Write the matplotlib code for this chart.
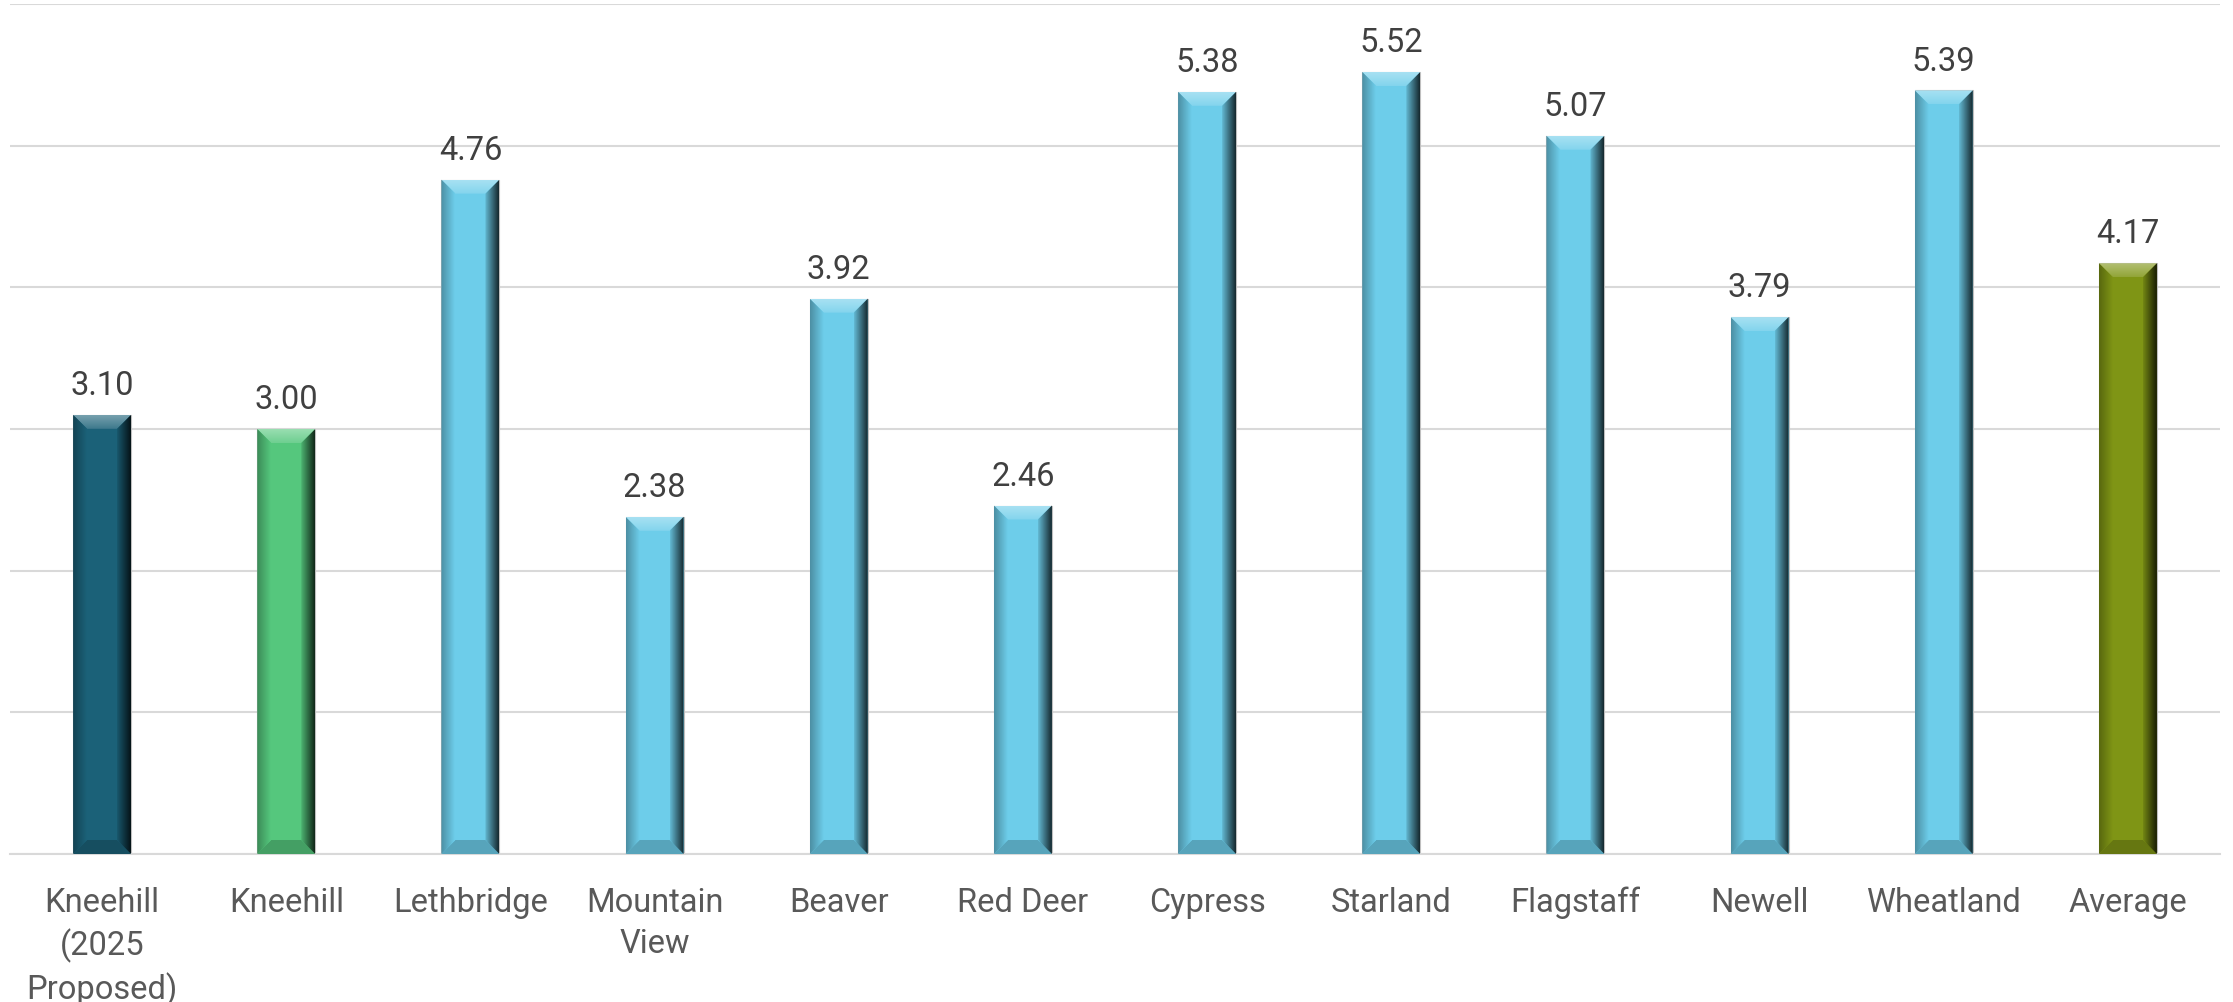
"""
Kneehill vs. neighbouring municipalities - bar chart with bevelled bars.
"""
import matplotlib
matplotlib.use("Agg")
import matplotlib.pyplot as plt
import numpy as np
from matplotlib.colors import to_rgb, ListedColormap
from matplotlib.patches import Polygon

categories = [
    "Kneehill\n(2025\nProposed)",
    "Kneehill",
    "Lethbridge",
    "Mountain\nView",
    "Beaver",
    "Red Deer",
    "Cypress",
    "Starland",
    "Flagstaff",
    "Newell",
    "Wheatland",
    "Average",
]
values = [3.10, 3.00, 4.76, 2.38, 3.92, 2.46, 5.38, 5.52, 5.07, 3.79, 5.39, 4.17]
bar_colors = ["#1B6178", "#55C77D"] + ["#6DCDEA"] * 9 + ["#7F9515"]

y_ticks = [0, 1, 2, 3, 4, 5, 6]

plt.rcParams["font.family"] = ["Roboto", "DejaVu Sans"]


def mix(c, other, t):
    c = np.array(to_rgb(c))
    o = np.array(to_rgb(other))
    return tuple(c * (1 - t) + o * t)


W, H, DPI = 2233, 1003, 100
fig = plt.figure(figsize=(W / DPI, H / DPI), dpi=DPI)
ax = fig.add_axes([10 / W, 1 - 855 / H, 2210 / W, 850 / H])

x = np.arange(len(categories))
bar_w = 0.315
bars = ax.bar(x, values, bar_w, color=bar_colors, edgecolor="#BFBFBF",
              linewidth=0.8, zorder=2)

ax.set_xlim(-0.5, len(categories) - 0.5)
ax.set_ylim(0, 6)
ax.set_yticks(y_ticks)
ax.yaxis.grid(True, color="#D9D9D9", linewidth=1.5, zorder=0)
ax.set_axisbelow(True)
ax.tick_params(axis="y", length=0, labelleft=False)
ax.tick_params(axis="x", length=0, pad=23, labelsize=23.5, colors="#595959")
ax.set_xticks(x)
ax.set_xticklabels(categories, linespacing=1.36)
for s in ["left", "right", "top"]:
    ax.spines[s].set_visible(False)
ax.spines["bottom"].set_color("#D9D9D9")
ax.spines["bottom"].set_linewidth(1.5)

# bevel size in data units (about 14 px)
bev_px = 14
dx = bev_px * (ax.get_xlim()[1] - ax.get_xlim()[0]) / 2210
dy = bev_px * (ax.get_ylim()[1] - ax.get_ylim()[0]) / 850

for bar, col in zip(bars, bar_colors):
    x0 = bar.get_x()
    x1 = x0 + bar.get_width()
    y0, y1 = 0, bar.get_height()

    top = Polygon([(x0, y1), (x1, y1), (x1 - dx, y1 - dy), (x0 + dx, y1 - dy)],
                  closed=True, facecolor="none", edgecolor="none", zorder=3)
    bottom = Polygon([(x0, y0), (x1, y0), (x1 - dx, y0 + dy), (x0 + dx, y0 + dy)],
                     closed=True, facecolor=mix(col, "black", 0.2), edgecolor="none", zorder=3)
    left = Polygon([(x0, y0), (x0 + dx, y0 + dy), (x0 + dx, y1 - dy), (x0, y1)],
                   closed=True, facecolor="none", edgecolor="none", zorder=3)
    right = Polygon([(x1, y0), (x1 - dx, y0 + dy), (x1 - dx, y1 - dy), (x1, y1)],
                    closed=True, facecolor="none", edgecolor="none", zorder=3)
    for p in (top, bottom, left, right):
        ax.add_patch(p)

    # top: light highlight, brighter at the rim
    cmap_t = ListedColormap([mix(col, "white", t) for t in np.linspace(0.15, 0.4, 32)])
    im = ax.imshow(np.linspace(0, 1, 32)[:, None], cmap=cmap_t, aspect="auto", origin="lower",
                   extent=[x0, x1, y1 - dy, y1], zorder=3, interpolation="bilinear")
    im.set_clip_path(top)
    # left side: slightly darker towards the edge
    cmap_l = ListedColormap([mix(col, "black", t) for t in np.linspace(0.3, 0.0, 32)])
    im = ax.imshow(np.linspace(0, 1, 32)[None, :], cmap=cmap_l, aspect="auto",
                   extent=[x0, x0 + dx, y0, y1], zorder=3, interpolation="bilinear")
    im.set_clip_path(left)
    # right side: dark gradient towards the edge
    cmap_r = ListedColormap([mix(col, "black", t) for t in np.linspace(0.1, 0.8, 32)])
    im = ax.imshow(np.linspace(0, 1, 32)[None, :], cmap=cmap_r, aspect="auto",
                   extent=[x1 - dx, x1, y0, y1], zorder=3, interpolation="bilinear")
    im.set_clip_path(right)

    ax.annotate(f"{bar.get_height():.2f}", xy=(bar.get_x() + bar.get_width() / 2, y1),
                xytext=(0, 10), textcoords="offset points", ha="center", va="bottom",
                fontsize=23.5, color="#404040")

ax.set_xlim(-0.5, len(categories) - 0.5)
ax.set_ylim(0, 6)

fig.savefig("out.png", dpi=DPI)
